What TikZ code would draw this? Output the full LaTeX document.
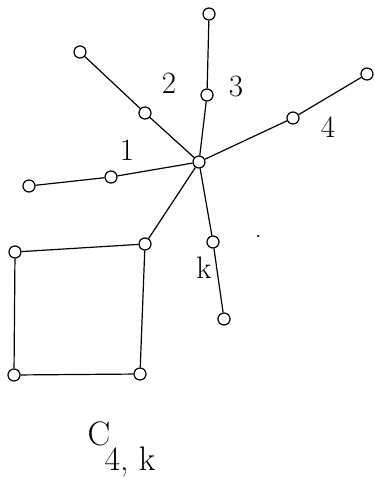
\documentclass[tikz,border=0pt]{standalone}
\usepackage{tikz}
\usetikzlibrary{positioning}

\begin{document}
\begin{tikzpicture}[
  x=1pt, y=-1pt,
  vert/.style={draw, circle, fill=white, minimum size=12pt, inner sep=0pt, line width=1.2pt},
  edge/.style={line width=1.2pt},
  lbl/.style={font=\fontsize{31}{36}\selectfont},
  capt/.style={font=\fontsize{34}{40}\selectfont},
]
  \useasboundingbox (0,0) rectangle (374,478);

  % centre and branches
  \node[vert] (c) at (199,162) {};
  \node[vert] (m1) at (111,177) {};
  \node[vert] (e1) at (29,186) {};
  \node[vert] (m2) at (145,113) {};
  \node[vert] (e2) at (80,52) {};
  \node[vert] (m3) at (207,95) {};
  \node[vert] (e3) at (209,14) {};
  \node[vert] (m4) at (293,118) {};
  \node[vert] (e4) at (367,74) {};
  \node[vert] (mk) at (213,242) {};
  \node[vert] (ek) at (224,319) {};

  % square
  \node[vert] (sq1) at (145,244) {};
  \node[vert] (sq2) at (15,252) {};
  \node[vert] (sq3) at (14,375) {};
  \node[vert] (sq4) at (140,374) {};

  \node[circle, fill, inner sep=0pt, minimum size=2.5pt] (dot) at (258,236) {};

  \draw[edge] (c) -- (m1) -- (e1);
  \draw[edge] (c) -- (m2) -- (e2);
  \draw[edge] (c) -- (m3) -- (e3);
  \draw[edge] (c) -- (m4) -- (e4);
  \draw[edge] (c) -- (mk) -- (ek);
  \draw[edge] (c) -- (sq1);
  \draw[edge] (sq1) -- (sq2) -- (sq3) -- (sq4) -- (sq1);

  \node[lbl] (l1) at (127,150) {1};
  \node[lbl] (l2) at (169,83) {2};
  \node[lbl] (l3) at (236,87) {3};
  \node[lbl] (l4) at (328,127) {4};
  \node[lbl] (lk) at (204,268) {k};

  \node[capt] (cname) at (99,434) {C};
  \node[capt] (csub) at (130,462) {4, k};
\end{tikzpicture}
\end{document}
